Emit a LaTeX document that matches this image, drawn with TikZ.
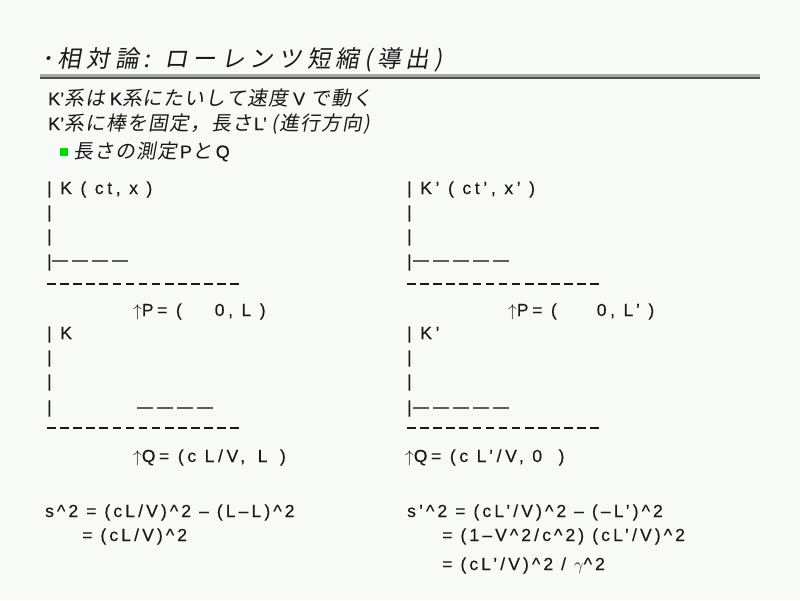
\documentclass[tikz,border=0pt]{standalone}
\usepackage{fontspec}
\setmainfont{Liberation Sans}
\newfontfamily\jpfont[FakeSlant=0.18, Scale=1.1]{Noto Sans CJK JP}
\newfontfamily\jpbody[FakeSlant=0.18, Scale=1.1, LetterSpace=6]{Noto Sans CJK JP}
\newcommand{\jp}[1]{{\jpbody #1}}
\newcommand{\caret}{\textasciicircum}
\definecolor{slidebg}{HTML}{F7FAF7}
\definecolor{ink}{HTML}{1A1A1A}
\definecolor{bargrey}{HTML}{5E5E5E}
\definecolor{rulelight}{HTML}{A8A8A8}
\definecolor{ruledark}{HTML}{505050}
\definecolor{bulletgreen}{HTML}{00E000}

\tikzset{
    txt/.style={anchor=base west, inner sep=0pt, text=ink},
    titletxt/.style={txt, font=\fontsize{21.5}{26}\selectfont\jpfont\addfontfeatures{LetterSpace=21}},
    bodytxt/.style={txt, font=\fontsize{18}{22}\selectfont\addfontfeatures{FakeBold=0.3}},
    asciitxt/.style={txt, font=\fontsize{17.5}{20}\selectfont\addfontfeatures{LetterSpace=21, FakeBold=0.3}},
    formulatxt/.style={asciitxt, font=\fontsize{17.5}{20}\selectfont\addfontfeatures{LetterSpace=18, FakeBold=0.3}},
    bars/.style={draw=bargrey, line width=2.4pt, dash pattern=on 16pt off 4pt},
    ticks/.style={draw=ink, line width=2pt, dash pattern=on 8.6pt off 4.5pt}
}

\begin{document}
\begin{tikzpicture}[x=1pt,y=-1pt]
    % Slide background
    \path[use as bounding box, fill=slidebg] (0,0) rectangle (800,600);

    % Title and its rule
    \node[titletxt] (title) at (41,67) {･相対論: ローレンツ短縮(導出)};
    \fill[rulelight] (40,74) rectangle (760,76.5);
    \fill[ruledark] (40,76.5) rectangle (760,78.5);

    % Setting
    \node[bodytxt] (setup1) at (48,105) {K’\jp{系は} K\jp{系にたいして速度} V \jp{で動く}};
    \node[bodytxt] (setup2) at (48,130) {K’\jp{系に棒を固定，長さ}\kern2pt L’ \jp{(進行方向)}};
    \node[fill=bulletgreen, inner sep=0pt, minimum size=8pt] (bullet) at (64,152) {};
    \node[bodytxt, anchor=base west] (measure) at (73,158) {\jp{長さの測定}\kern3pt P\kern1pt\jp{と}\kern3pt Q};

    % Frame K, event P
    \begin{scope}[xshift=0pt]
        \node[asciitxt] (headK) at (47,194) {| K ( ct, x )};
        \foreach \y [count=\i] in {218,242,267}
            \node[asciitxt] (axisK\i) at (47,\y) {|};
        \draw[bars] (52,261) -- (130,261);
        \draw[ticks] (47,284) -- (240,284);
        \node[asciitxt] (eventP) at (133,316) {$\uparrow$P= (\hspace{33pt}0, L )};
    \end{scope}

    % Frame K, event Q
    \begin{scope}[xshift=0pt]
        \node[asciitxt] (headKQ) at (47,339) {| K};
        \foreach \y [count=\i] in {363,387,413}
            \node[asciitxt] (axisKQ\i) at (47,\y) {|};
        \draw[bars] (137,408) -- (214,408);
        \draw[ticks] (47,428) -- (240,428);
        \node[asciitxt] (eventQ) at (133,462) {$\uparrow$Q= (c L/V,\hspace{4pt} L\hspace{4pt} )};
    \end{scope}

    % Frame K', event P
    \begin{scope}[xshift=0pt]
        \node[asciitxt] (headKp) at (407,194) {| K’ ( ct’, x’ )};
        \foreach \y [count=\i] in {218,242,267}
            \node[asciitxt] (axisKp\i) at (407,\y) {|};
        \draw[bars] (413,261) -- (512,261);
        \draw[ticks] (407,284) -- (600,284);
        \node[asciitxt] (eventPp) at (508,316) {$\uparrow$P= (\hspace{40pt}0, L’ )};
    \end{scope}

    % Frame K', event Q
    \begin{scope}[xshift=0pt]
        \node[asciitxt] (headKpQ) at (407,339) {| K’};
        \foreach \y [count=\i] in {363,387,413}
            \node[asciitxt] (axisKpQ\i) at (407,\y) {|};
        \draw[bars] (413,408) -- (512,408);
        \draw[ticks] (407,428) -- (600,428);
        \node[asciitxt] (eventQp) at (405,462) {$\uparrow$Q= (c L’/V, 0\hspace{8pt} )};
    \end{scope}

    % Interval in K
    \node[formulatxt] (intK1) at (45,517) {s\caret2 = (cL/V)\caret2 – (L–L)\caret2};
    \node[formulatxt] (intK2) at (82,541) {= (cL/V)\caret2};

    % Interval in K'
    \node[formulatxt] (intKp1) at (407,517) {s’\caret2 = (cL’/V)\caret2 – (–L’)\caret2};
    \node[formulatxt] (intKp2) at (442,541) {= (1–V\caret2/c\caret2) (cL’/V)\caret2};
    \node[formulatxt] (intKp3) at (442,570) {= (cL’/V)\caret2 / $\gamma$\caret2};
\end{tikzpicture}
\end{document}
